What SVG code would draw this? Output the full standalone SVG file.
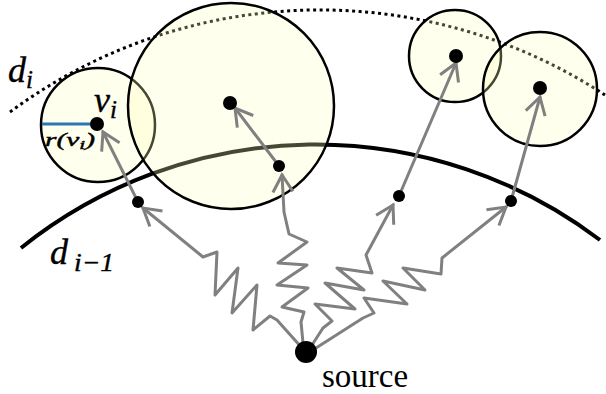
<svg xmlns="http://www.w3.org/2000/svg" width="606" height="394" viewBox="0 0 606 394">
<defs>
<style>
.rng{fill:#ffffc0;fill-opacity:0.28;stroke:#000;stroke-width:2.5}
.dot{fill:#000}
.arr{fill:none;stroke:#808080;stroke-width:3;stroke-linejoin:round;stroke-linecap:round;marker-end:url(#ah)}
.math{font-family:"Liberation Serif","DejaVu Serif",serif;font-style:italic;fill:#000;stroke:#000;stroke-width:0.4}
</style>
<marker id="ah" markerUnits="userSpaceOnUse" markerWidth="26" markerHeight="26" viewBox="0 -3 26 26" refX="20" refY="10" orient="auto" overflow="visible">
<path d="M3,0 L20,10 L3,20" fill="none" stroke="#808080" stroke-width="3" stroke-linejoin="miter" stroke-linecap="butt"/>
</marker>
</defs>
<g id="levels">
<path id="d_i_curve" d="M10,112 A521,521 0 0,1 605,95" fill="none" stroke="#000" stroke-width="3" stroke-dasharray="3 3.5"/>
<path id="d_im1_curve" d="M21,248 A471,471 0 0,1 600,240" fill="none" stroke="#000" stroke-width="4"/>
</g>
<g id="node-v1"><circle class="rng" cx="98" cy="125" r="57"/></g>
<g id="node-v2"><circle class="rng" cx="231" cy="106" r="103"/></g>
<g id="node-v3"><circle class="rng" cx="455" cy="56" r="46"/></g>
<g id="node-v4"><circle class="rng" cx="540" cy="89" r="57"/></g>
<line id="radius" x1="42" y1="124" x2="97" y2="124" stroke="#2e75b6" stroke-width="3"/>
<g id="connectors">
<line class="arr" x1="138" y1="202" x2="103" y2="132"/>
<line class="arr" x1="279" y1="166" x2="235" y2="108"/>
<line class="arr" x1="399" y1="196" x2="456" y2="63"/>
<line class="arr" x1="511" y1="201" x2="540" y2="97"/>
<polyline class="arr" points="302,348 277,320 270,316 253,330 257,285 232,313 238,268 215,295 217,252 203,257 143,208"/>
<polyline class="arr" points="303,343 301,322 304,312 282,307 308,288 277,285 307,265 278,263 307,242 289,234 284,212 282,175"/>
<polyline class="arr" points="312,345 323,328 332,321 315,304 355,309 325,283 364,290 337,268 372,273 366,255 393,205"/>
<polyline class="arr" points="316,348 363,318 374,313 364,298 407,304 383,281 425,290 403,268 441,274 442,258 506,207"/>
</g>
<g id="node-source"><circle class="dot" cx="306" cy="352" r="11"/>
<text x="322" y="387" font-family="'Liberation Serif',serif" font-size="33" fill="#000">source</text></g>
<g id="points">
<circle class="dot" cx="97" cy="124" r="7"/>
<circle class="dot" cx="230" cy="103" r="7"/>
<circle class="dot" cx="456" cy="56" r="7"/>
<circle class="dot" cx="540" cy="88" r="7"/>
<circle class="dot" cx="138" cy="202" r="6"/>
<circle class="dot" cx="279" cy="166" r="6"/>
<circle class="dot" cx="399" cy="196" r="6"/>
<circle class="dot" cx="511" cy="201" r="6"/>
</g>
<g id="labels">
<text class="math" x="8" y="82" font-size="36">d<tspan font-size="25" dy="6">i</tspan></text>
<text class="math" x="94" y="112" font-size="36">v<tspan font-size="25" dy="6">i</tspan></text>
<text class="math" x="45" y="146" font-size="18" textLength="50" lengthAdjust="spacingAndGlyphs" stroke="none">r(v<tspan font-size="13" dy="3">i</tspan><tspan dy="-3">)</tspan></text>
<text class="math" x="50" y="264" font-size="36">d</text>
<text class="math" x="74" y="271" font-size="25" textLength="40" lengthAdjust="spacingAndGlyphs">i−1</text>
</g>
</svg>
